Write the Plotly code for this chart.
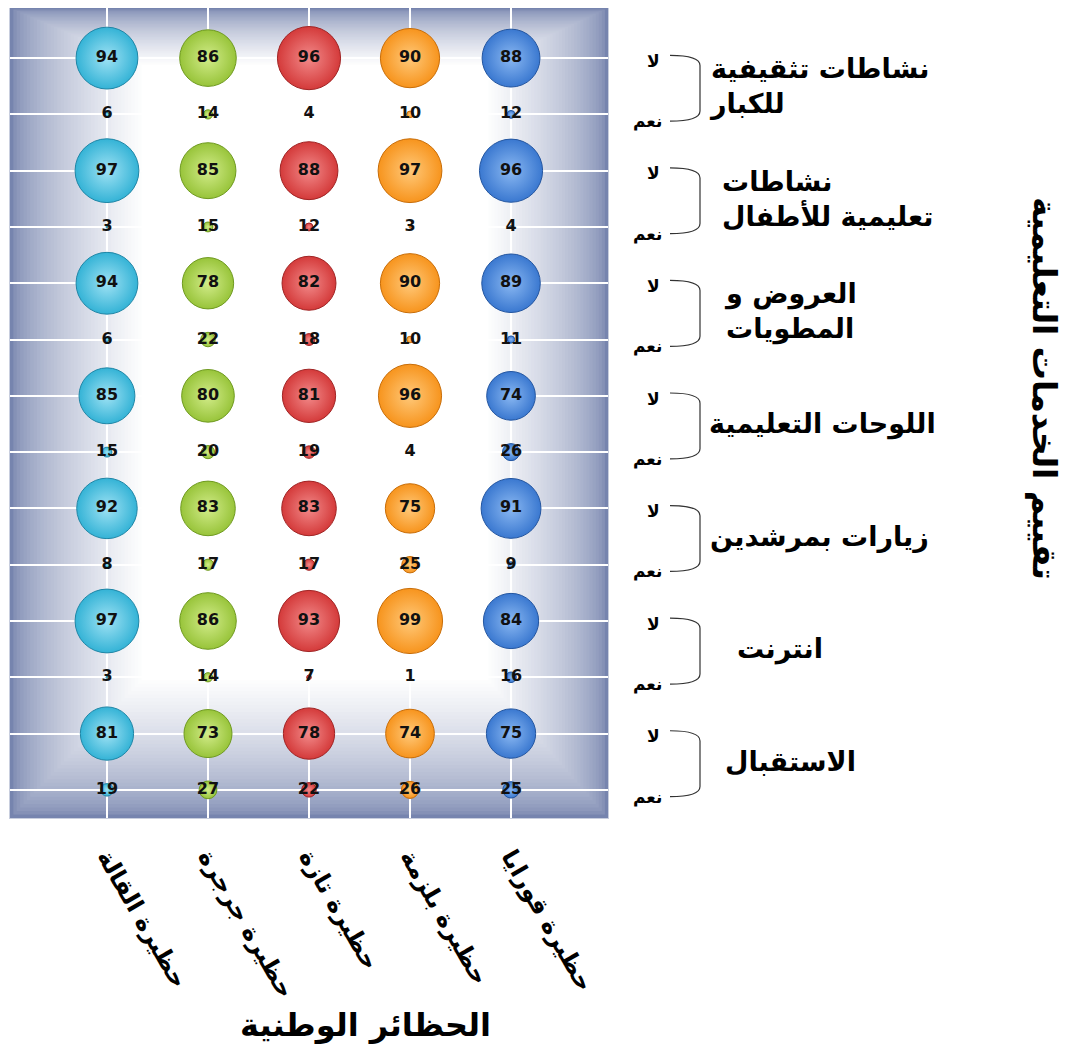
import plotly.graph_objects as go

# ---------------- data ----------------
parks = ["حظيرة القالة", "حظيرة جرجرة", "حظيرة تازة", "حظيرة بلزمة", "حظيرة قورايا"]
services = ["نشاطات تثقيفية<br>للكبار", "نشاطات<br>تعليمية للأطفال", "العروض و<br>المطويات",
            "اللوحات التعليمية", "زيارات بمرشدين", "انترنت", "الاستقبال"]
answer_no = "لا"
answer_yes = "نعم"
# rows = services, columns = parks
no_vals = [
    [94, 86, 96, 90, 88],
    [97, 85, 88, 97, 96],
    [94, 78, 82, 90, 89],
    [85, 80, 81, 96, 74],
    [92, 83, 83, 75, 91],
    [97, 86, 93, 99, 84],
    [81, 73, 78, 74, 75],
]
yes_vals = [
    [6, 14, 4, 10, 12],
    [3, 15, 12, 3, 4],
    [6, 22, 18, 10, 11],
    [15, 20, 19, 4, 26],
    [8, 17, 17, 25, 9],
    [3, 14, 7, 1, 16],
    [19, 27, 22, 26, 25],
]
x_title = "الحظائر الوطنية"
y_title = "تقييم الخدمات التعليمية"

# ---------------- styles ----------------
colors = ["#34b3d6", "#98c43a", "#d43a3a", "#f7941d", "#3a78d0"]
centers = ["#9fe2f4", "#d2ec8a", "#f28a8a", "#ffc97a", "#8ab8f2"]
edges = ["#1f86a6", "#6f9a20", "#a02424", "#c86d08", "#2456a0"]
label_left_px = [707, 720, 722, 707, 708, 735, 723]

OFF = 8  # page body margin
W, H = 1081 - OFF, 1055 - OFF
PL, PR, PT, PB = 10 - OFF, 608 - OFF, 8 - OFF, 818 - OFF


def px_to_paper_x(px):
    return (px - OFF - PL) / (PR - PL)


def px_to_paper_y(py):
    return (PB - (py - OFF)) / (PB - PT)


fig = go.Figure()

n = len(services)
for j, park in enumerate(parks):
    xs, ys, vals = [], [], []
    for i in range(n):
        xs += [park, park]
        ys += [2 * i, 2 * i + 1]
        vals += [no_vals[i][j], yes_vals[i][j]]
    fig.add_trace(go.Scatter(
        x=xs, y=ys, mode="markers+text",
        text=[str(v) for v in vals], textposition="middle center",
        textfont=dict(family="DejaVu Sans", size=16, color="#111111", weight="bold"),
        marker=dict(size=vals, sizemode="diameter", sizeref=1.52, sizemin=0,
                    color=colors[j], opacity=1,
                    gradient=dict(type="radial", color=centers[j]),
                    line=dict(color=edges[j], width=1)),
        showlegend=False, cliponaxis=False,
    ))

# gradient background via nested rectangles
shapes = []
N = 40
edge_rgb = (118, 132, 174)
for k in range(N):
    t = k / (N - 1)
    c = tuple(int(e + (255 - e) * (t ** 0.6)) for e in edge_rgb)
    shapes.append(dict(type="rect", xref="x domain", yref="y domain",
                       x0=0.22 * t, x1=1 - 0.20 * t, y0=0.17 * t, y1=1 - 0.07 * t,
                       fillcolor="rgb(%d,%d,%d)" % c, line=dict(width=0), layer="below"))

# brackets and labels on the right
annotations = []
bx0, bx1 = px_to_paper_x(670), px_to_paper_x(700)
for i, s in enumerate(services):
    yt, yb = 2 * i - 0.05, 2 * i + 1 + 0.12
    d = 0.18
    path = (f"M {bx0},{yt} Q {bx1},{yt} {bx1},{yt + d} "
            f"L {bx1},{yb - d} Q {bx1},{yb} {bx0},{yb}")
    shapes.append(dict(type="path", xref="paper", yref="y", path=path,
                       line=dict(color="#333333", width=1.2)))
    annotations.append(dict(x=px_to_paper_x(662), y=2 * i + 0.05, xref="paper", yref="y",
                            text=answer_no, showarrow=False, xanchor="right", yanchor="middle",
                            font=dict(family="DejaVu Sans", size=17, color="black", weight="bold")))
    annotations.append(dict(x=px_to_paper_x(664), y=2 * i + 1.12, xref="paper", yref="y",
                            text=answer_yes, showarrow=False, xanchor="right", yanchor="middle",
                            font=dict(family="DejaVu Sans", size=17, color="black", weight="bold")))
    annotations.append(dict(x=px_to_paper_x(label_left_px[i]), y=2 * i + 0.5, xref="paper", yref="y",
                            text=s, showarrow=False, xanchor="left", yanchor="middle", align="left",
                            font=dict(family="DejaVu Sans", size=27, color="black", weight="bold")))

annotations.append(dict(x=px_to_paper_x(1045), y=px_to_paper_y(388), xref="paper", yref="paper",
                        text=y_title, textangle=90, showarrow=False,
                        xanchor="center", yanchor="middle",
                        font=dict(family="DejaVu Sans", size=33, color="black", weight="bold")))
annotations.append(dict(x=px_to_paper_x(365), y=px_to_paper_y(1025), xref="paper", yref="paper",
                        text=x_title, showarrow=False, xanchor="center", yanchor="middle",
                        font=dict(family="DejaVu Sans", size=32, color="black", weight="bold")))

fig.update_layout(
    width=W, height=H,
    margin=dict(l=PL, r=W - PR, t=PT, b=H - PB),
    paper_bgcolor="white", plot_bgcolor="white",
    shapes=shapes, annotations=annotations,
    xaxis=dict(type="category", categoryorder="array", categoryarray=parks,
               range=[-0.96, 4.96], showgrid=True, gridcolor="white", gridwidth=1.5,
               zeroline=False, tickangle=60, ticks="outside", ticklen=14,
               tickcolor="rgba(0,0,0,0)",
               tickfont=dict(family="DejaVu Sans", size=24, color="black", weight="bold"),
               showline=True, mirror=True, linecolor="#c8cede", linewidth=1),
    yaxis=dict(range=[13.5, -0.89], tickvals=list(range(2 * n)), showticklabels=False,
               showgrid=True, gridcolor="white", gridwidth=1.5, zeroline=False,
               showline=True, mirror=True, linecolor="#c8cede", linewidth=1),
)

fig.write_html("out.html")
